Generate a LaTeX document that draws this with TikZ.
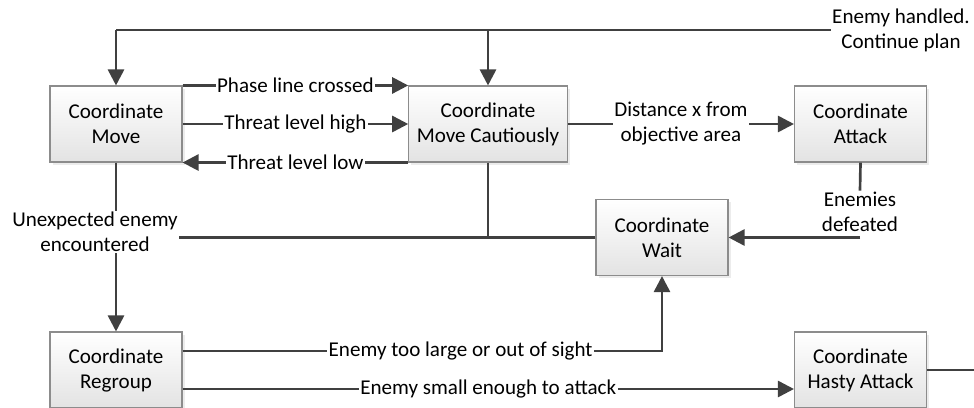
\documentclass[tikz,border=0pt]{standalone}
\usepackage{fontspec}
\setmainfont{Carlito}
\usetikzlibrary{arrows.meta,positioning,calc,shadows}
\definecolor{linegray}{RGB}{64,64,64}
\definecolor{boxedge}{RGB}{140,140,140}

\begin{document}
\begin{tikzpicture}[x=0.75pt, y=-0.75pt,
    font=\fontsize{15.8}{18.75}\selectfont,
    state/.style={draw=boxedge, line width=0.8pt, top color=white, bottom color=gray!22,
      minimum width=99pt, minimum height=57pt, align=center, inner xsep=6pt, inner ysep=2pt,
      drop shadow={shadow xshift=2pt, shadow yshift=-2pt, fill=black!15}},
    flow/.style={draw=linegray, line width=2pt},
    arr/.style={flow, -{Triangle[length=12pt, width=12pt]}},
    cond/.style={fill=white, inner sep=1pt, align=center}]
        \useasboundingbox (0,0) rectangle (974,407);
        \clip (0,0) rectangle (974,407);
        % states
        \node[state] (move) at (116,124) {Coordinate\\Move};
        \node[state] (movec) at (488,124) {Coordinate\\Move Cautiously};
        \node[state] (attack) at (860.5,124) {Coordinate\\Attack};
        \node[state] (wait) at (662,237.5) {Coordinate\\Wait};
        \node[state] (regroup) at (116,370) {Coordinate\\Regroup};
        \node[state] (hasty) at (860.5,370) {Coordinate\\Hasty Attack};
        % free labels
        \node[cond] (handled) at (901,30) {Enemy handled.\\Continue plan};
        \node[cond] (unexp) at (95,232) {Unexpected enemy\\encountered};
        \node[cond] (defeated) at (860,212) {Enemies\\defeated};
        \coordinate (exit) at (974,370);
        % transitions
        \draw[flow] (handled.west) -- (move.north |- handled.west);
        \draw[arr] (move.north |- handled.west) -- (move.north);
        \draw[arr] (movec.north |- handled.west) -- (movec.north);
        \draw[arr] (move.north east) -- node[cond]{Phase line crossed} (movec.north west);
        \draw[arr] (move.east) -- node[cond]{Threat level high} (movec.west);
        \draw[arr] (movec.south west) -- node[cond]{Threat level low} (move.south east);
        \draw[arr] (movec.east) -- node[cond]{Distance x from\\objective area} (attack.west);
        \draw[flow] (move.south) -- (move.south |- unexp.north);
        \draw[arr] (move.south |- unexp.south) -- (regroup.north);
        \draw[flow] (wait.west) -- (unexp.east |- wait.west);
        \draw[flow] (movec.south) -- (movec.south |- wait.west);
        \draw[flow] (attack.south) -- (defeated.north);
        \draw[arr] (defeated.south |- wait.east) -- (wait.east);
        \draw[arr] ($(regroup.east)+(0,-19)$) -| node[cond, pos=0.29]{Enemy too large or out of sight} (wait.south);
        \draw[arr] ($(regroup.east)+(0,19)$) -- node[cond]{Enemy small enough to attack} ($(hasty.west)+(0,19)$);
        \draw[flow] (hasty.east) -- (exit);
\end{tikzpicture}
\end{document}
